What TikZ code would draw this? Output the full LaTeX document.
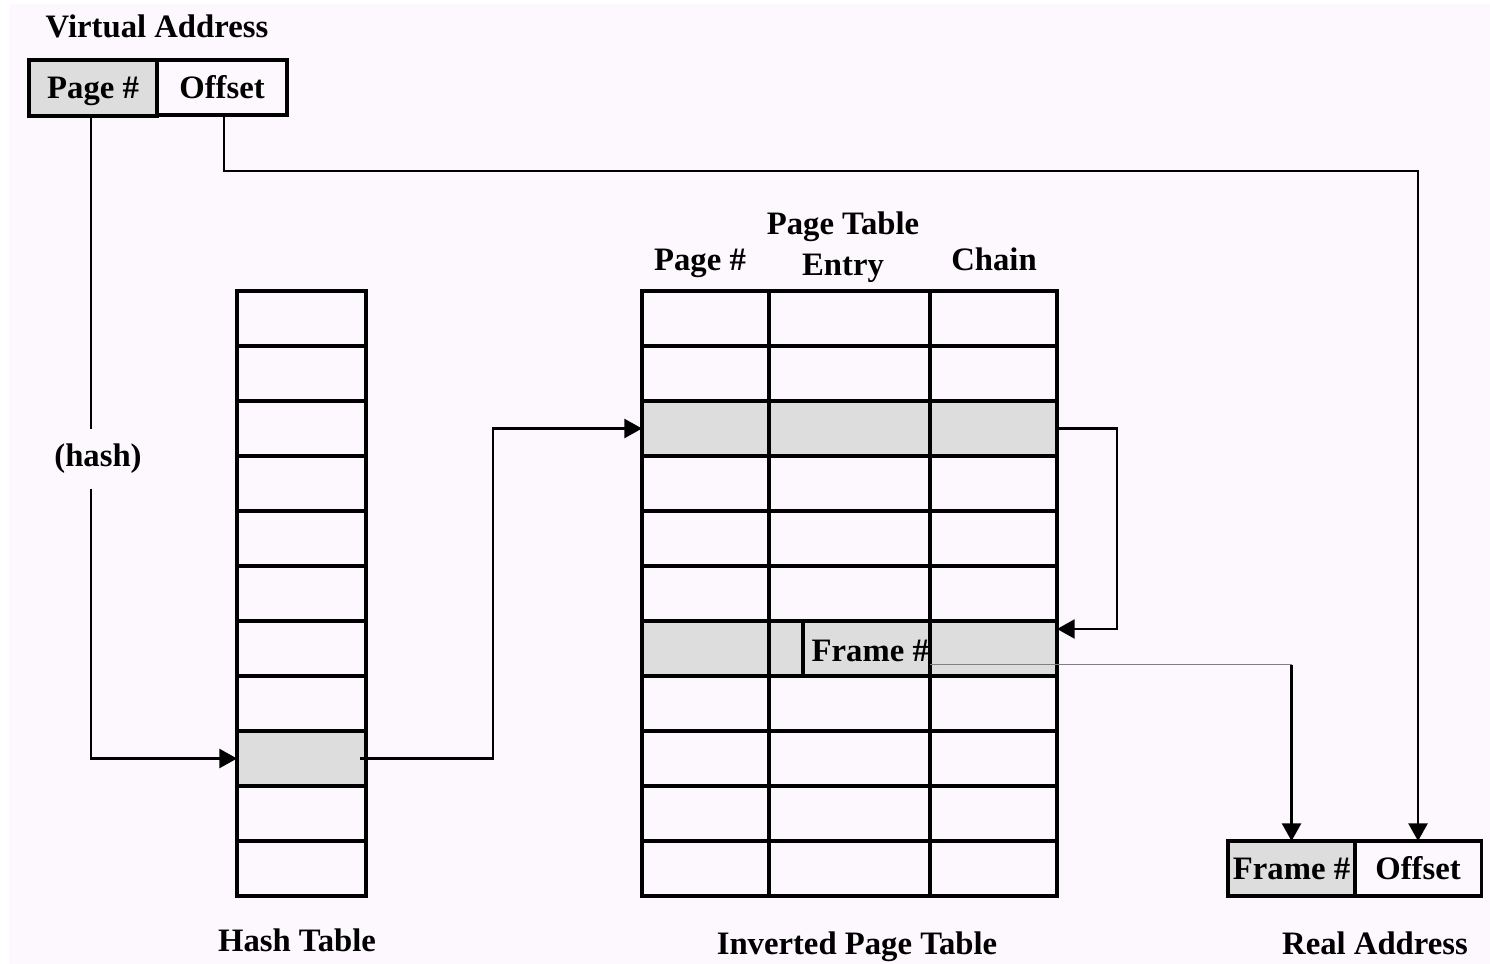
\documentclass[tikz,border=0pt]{standalone}
\usepackage{fontspec}
\setmainfont{Liberation Serif}
\usetikzlibrary{arrows.meta,calc}
\definecolor{bgpink}{RGB}{253,248,253}
\definecolor{cellgray}{RGB}{221,221,221}
\begin{document}
\begin{tikzpicture}[x=0.01cm,y=-0.01cm,
  lbl/.style={font=\fontsize{9.3}{11.4}\selectfont\bfseries, inner sep=0pt},
  blbl/.style={lbl, anchor=base},
  cell/.style={draw, line width=0.9pt, inner sep=0pt, outer sep=0pt, anchor=north west, minimum height=0.55cm,
    font=\fontsize{9.3}{11.4}\selectfont\bfseries, text height=6.1pt, text depth=0pt},
  hcell/.style={cell, minimum width=1.29cm},
  colA/.style={cell, minimum width=1.27cm},
  colB/.style={cell, minimum width=1.61cm},
  colC/.style={cell, minimum width=1.27cm},
  shaded/.style={fill=cellgray},
  conn/.style={line width=0.65pt},
  arr/.style={-{Triangle[length=5pt,width=5.4pt]}}
]
\useasboundingbox (0,0) rectangle (1490,964);
\fill[white] (0,0) rectangle (1490,964);
\fill[bgpink] (9,4) rectangle (1490,964);

% Virtual address
\node[blbl] (vlabel) at (157,38) {Virtual Address};
\node[cell, minimum width=1.30cm] (voff) at (157,60) {Offset};
\node[cell, shaded, line width=1.3pt, minimum width=1.28cm, minimum height=0.56cm] (vpage) at (29,60) {Page \#};

% Hash table
\foreach \i in {1,...,8,10,11}{
  \node[hcell] (h\i) at (237,{291+55*(\i-1)}) {};
}
\node[hcell, shaded] (h9) at (237,{291+55*8}) {};
\node[blbl] (hlabel) at (297,952) {Hash Table};

% Inverted page table
\foreach \i in {1,2,4,5,6,8,9,10,11}{
  \node[colA] (p\i a) at (642,{291+55*(\i-1)}) {};
  \node[colB] (p\i b) at (769,{291+55*(\i-1)}) {};
  \node[colC] (p\i c) at (930,{291+55*(\i-1)}) {};
}
\foreach \i in {3,7}{
  \node[colA, shaded] (p\i a) at (642,{291+55*(\i-1)}) {};
  \node[colB, shaded] (p\i b) at (769,{291+55*(\i-1)}) {};
  \node[colC, shaded] (p\i c) at (930,{291+55*(\i-1)}) {};
}
\draw[line width=0.9pt] (803,622) -- (803,677);
\node[blbl, anchor=base west] (iframe) at (811,662) {Frame \#};

\node[blbl] (hpage) at (700,271) {Page \#};
\node[blbl] (hpte) at (843,235) {Page Table};
\node[blbl] (hpte2) at (843,276) {Entry};
\node[blbl] (hchain) at (994,271) {Chain};
\node[blbl] (ilabel) at (857,955) {Inverted Page Table};

% Real address
\node[cell, shaded, minimum width=1.27cm] (rframe) at (1228,841) {Frame \#};
\node[cell, minimum width=1.26cm] (roff) at (1355,841) {Offset};
\node[blbl] (rlabel) at (1375,955) {Real Address};

% hash connector
\node[lbl, inner ysep=4pt, fill=bgpink] (hashlbl) at (98,459) {(hash)};
\draw[conn] (vpage.south) ++(-2,0) coordinate (hs) -- (hs |- hashlbl.north);
\draw[conn, arr] (hs |- hashlbl.south) |- (h9.west);

% offset connector
\draw[conn, arr] ($(voff.south)+(2,0)$) -- ++(0,56) -| (roff.north);

% hash table to inverted page table
\draw[conn, arr] ($(h9.east)+(-6,0)$) -- ++(133,0) |- (p3a.west);

% chain
\draw[conn, arr] (p3c.east) -- ++(60,0) |- ($(p7c.north east)+(0,8)$);

% frame number to real address
\coordinate (fs) at ($(p7c.west)+(0,16)$);
\coordinate (fc) at (rframe.north |- fs);
\draw[gray, line width=0.5pt] (fs) -- (fc);
\draw[conn, arr] (fc) -- (rframe.north);
\end{tikzpicture}
\end{document}
